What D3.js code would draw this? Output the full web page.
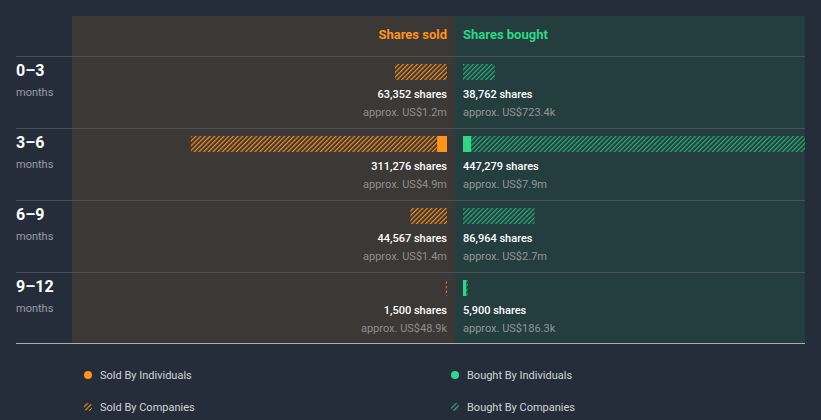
<!DOCTYPE html>
<html><head><meta charset="utf-8">
<script src="https://cdn.jsdelivr.net/npm/d3@7"></script>
<style>
html,body{margin:0;padding:0;background:#262d3a;}
svg{display:block;font-family:Roboto,"Noto Sans",sans-serif;}
</style></head><body>
<svg id="c" width="821" height="420"></svg>
<script>
const periods = ["0–3", "3–6", "6–9", "9–12"];
const soldIndividuals = [0, 12000, 0, 0];
const soldCompanies = [63352, 299276, 44567, 1500];
const boughtIndividuals = [0, 10000, 0, 4000];
const boughtCompanies = [38762, 437279, 86964, 1900];
const soldShares = ["63,352 shares", "311,276 shares", "44,567 shares", "1,500 shares"];
const soldValue = ["approx. US$1.2m", "approx. US$4.9m", "approx. US$1.4m", "approx. US$48.9k"];
const boughtShares = ["38,762 shares", "447,279 shares", "86,964 shares", "5,900 shares"];
const boughtValue = ["approx. US$723.4k", "approx. US$7.9m", "approx. US$2.7m", "approx. US$186.3k"];
const legendItems = ["Sold By Individuals", "Sold By Companies", "Bought By Individuals", "Bought By Companies"];

const ORANGE = "#ff931c", GREEN = "#2fd786";
const svg = d3.select("#c");
const defs = svg.append("defs");
function hatch(id, color) {
  const p = defs.append("pattern").attr("id", id).attr("patternUnits", "userSpaceOnUse")
    .attr("width", 3.3).attr("height", 6).attr("patternTransform", "rotate(45)");
  p.append("line").attr("x1", 0.6).attr("y1", 0).attr("x2", 0.6).attr("y2", 6)
    .attr("stroke", color).attr("stroke-width", 1.1);
}
hatch("hO", ORANGE);
hatch("hG", "#27b777");

const midX = 455, leftX = 72, rightX = 805, pad = 8;
const y = d3.scaleBand().domain(periods).range([56, 344]);
const maxVal = d3.max(periods.map((p, i) => Math.max(soldIndividuals[i] + soldCompanies[i], boughtIndividuals[i] + boughtCompanies[i])));
const w = d3.scaleLinear().domain([0, maxVal]).range([0, 368]);

// panels
svg.append("rect").attr("x", leftX).attr("y", 16).attr("width", midX - leftX).attr("height", 344 - 16).attr("fill", "#3c3835");
svg.append("rect").attr("x", midX).attr("y", 16).attr("width", rightX - midX).attr("height", 344 - 16).attr("fill", "#243e40");
defs.append("clipPath").attr("id", "clipB").append("rect").attr("x", midX).attr("y", 16).attr("width", rightX - midX).attr("height", 330);
defs.append("clipPath").attr("id", "clipS").append("rect").attr("x", leftX).attr("y", 16).attr("width", midX - leftX).attr("height", 330);

// header
svg.append("text").attr("x", midX - pad).attr("y", 39).attr("text-anchor", "end").attr("fill", ORANGE)
  .attr("font-size", 13).attr("font-weight", 700).text("Shares sold");
svg.append("text").attr("x", midX + pad).attr("y", 39).attr("fill", GREEN)
  .attr("font-size", 13).attr("font-weight", 700).text("Shares bought");

// separators
periods.forEach((p, i) => {
  svg.append("line").attr("x1", 16).attr("x2", rightX).attr("y1", y(p) + 0.5).attr("y2", y(p) + 0.5)
    .attr("stroke", "#4c5054").attr("stroke-width", 1);
});
svg.append("line").attr("x1", 16).attr("x2", rightX).attr("y1", 343.5).attr("y2", 343.5)
  .attr("stroke", "#a9aeb5").attr("stroke-width", 1);

const gS = svg.append("g").attr("clip-path", "url(#clipS)");
const gB = svg.append("g").attr("clip-path", "url(#clipB)");

periods.forEach((p, i) => {
  const top = y(p);
  const by = top + 8, bh = 16;
  // sold bars (grow leftwards from midX - pad)
  const sEnd = midX - pad;
  const si = w(soldIndividuals[i]), sc = w(soldCompanies[i]);
  if (si > 0) gS.append("rect").attr("x", sEnd - si).attr("y", by).attr("width", si).attr("height", bh).attr("fill", ORANGE);
  if (sc > 0) gS.append("rect").attr("x", sEnd - si - sc).attr("y", by).attr("width", sc).attr("height", bh).attr("fill", "url(#hO)");
  // bought bars
  const bStart = midX + pad;
  const bi = w(boughtIndividuals[i]), bc = w(boughtCompanies[i]);
  if (bi > 0) gB.append("rect").attr("x", bStart).attr("y", by).attr("width", bi).attr("height", bh).attr("fill", GREEN);
  if (bc > 0) gB.append("rect").attr("x", bStart + bi).attr("y", by).attr("width", bc).attr("height", bh).attr("fill", "url(#hG)");

  // labels
  svg.append("text").attr("x", 16).attr("y", top + 20).attr("fill", "#ffffff").attr("font-size", 16).attr("font-weight", 700).text(p);
  svg.append("text").attr("x", 16).attr("y", top + 40).attr("fill", "#9a9ea6").attr("font-size", 11).text("months");

  svg.append("text").attr("x", sEnd).attr("y", top + 42).attr("text-anchor", "end").attr("fill", "#ffffff")
    .attr("font-size", 11).attr("font-weight", 500).text(soldShares[i]);
  svg.append("text").attr("x", sEnd).attr("y", top + 60).attr("text-anchor", "end").attr("fill", "#8f8f8f")
    .attr("font-size", 11).text(soldValue[i]);
  svg.append("text").attr("x", bStart).attr("y", top + 42).attr("fill", "#ffffff")
    .attr("font-size", 11).attr("font-weight", 500).text(boughtShares[i]);
  svg.append("text").attr("x", bStart).attr("y", top + 60).attr("fill", "#8f9696")
    .attr("font-size", 11).text(boughtValue[i]);
});

// legend
const legPos = [[88, 375], [88, 407], [455, 375], [455, 407]];
const legFill = [ORANGE, "url(#hO)", GREEN, "url(#hG)"];
legendItems.forEach((t, i) => {
  const [lx, ly] = legPos[i];
  svg.append("circle").attr("cx", lx).attr("cy", ly).attr("r", 4).attr("fill", legFill[i]);
  svg.append("text").attr("x", lx + 12).attr("y", ly + 4).attr("fill", "#d2d4d8").attr("font-size", 11).text(t);
});
</script>
</body></html>
